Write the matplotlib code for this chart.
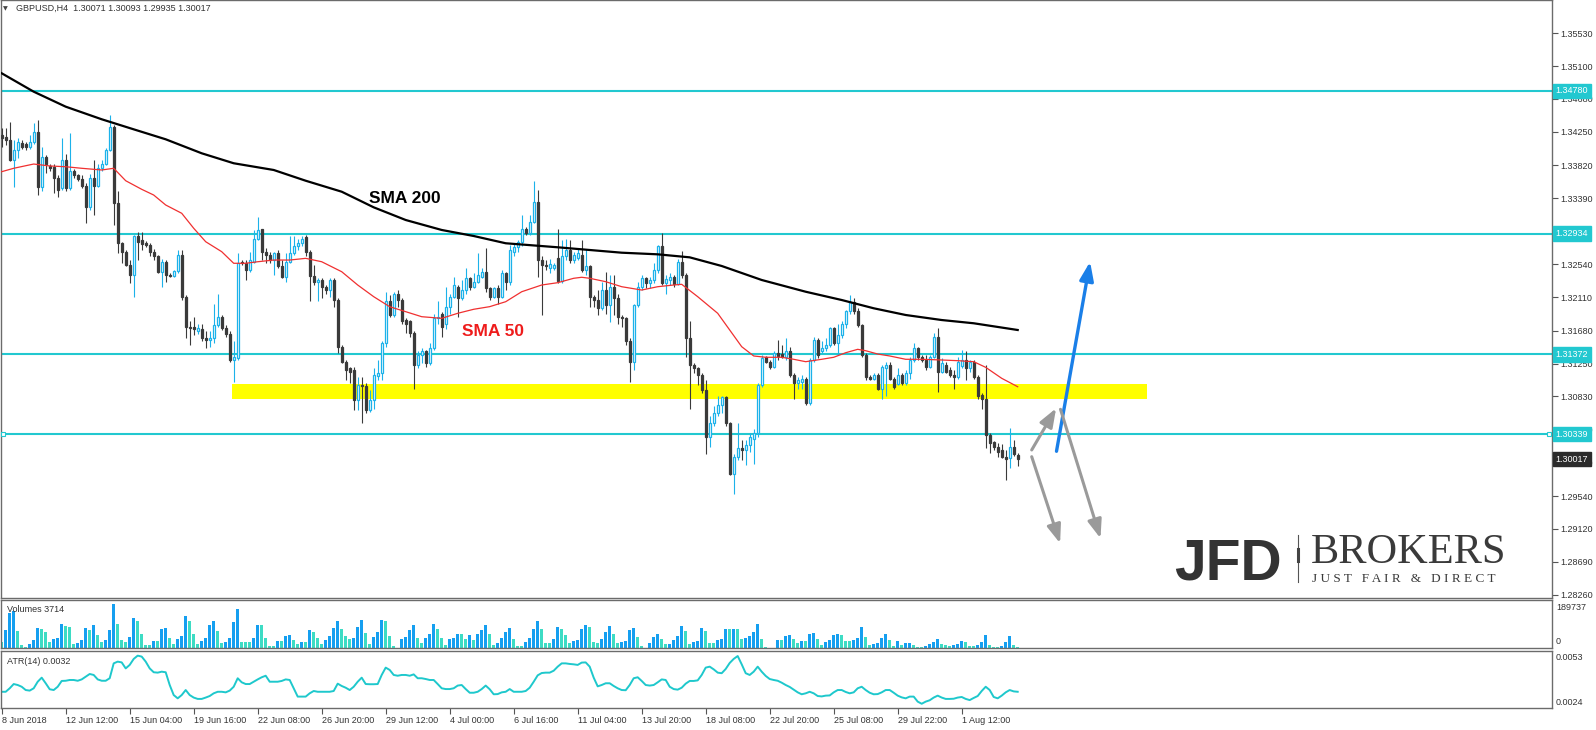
import matplotlib
matplotlib.use('Agg')
import matplotlib.pyplot as plt
import numpy as np
from matplotlib.lines import Line2D

plt.rcParams['font.family'] = ['Liberation Sans', 'DejaVu Sans']

W, H = 1596, 730

# GBPUSD H4 candles (bar 0 = 8 Jun 2018)
opens = [
    1.3421, 1.3419, 1.3415, 1.3389, 1.3402, 1.3411, 1.3410, 1.3405, 1.3412, 1.3425,
    1.3354, 1.3393, 1.3381, 1.3380, 1.3365, 1.3352, 1.3389, 1.3352, 1.3374, 1.3369,
    1.3364, 1.3355, 1.3328, 1.3366, 1.3355, 1.3379, 1.3384, 1.3402, 1.3432, 1.3333,
    1.3281, 1.3270, 1.3253, 1.3240, 1.3290, 1.3285, 1.3281, 1.3279, 1.3270, 1.3264,
    1.3244, 1.3257, 1.3240, 1.3239, 1.3245, 1.3266, 1.3212, 1.3173, 1.3173, 1.3167,
    1.3170, 1.3158, 1.3156, 1.3158, 1.3175, 1.3186, 1.3171, 1.3164, 1.3130, 1.3132,
    1.3257, 1.3255, 1.3246, 1.3257, 1.3287, 1.3299, 1.3270, 1.3266, 1.3259, 1.3268,
    1.3251, 1.3238, 1.3257, 1.3268, 1.3277, 1.3281, 1.3289, 1.3270, 1.3239, 1.3231,
    1.3234, 1.3224, 1.3221, 1.3233, 1.3208, 1.3147, 1.3128, 1.3119, 1.3117, 1.3078,
    1.3098, 1.3096, 1.3065, 1.3078, 1.3109, 1.3113, 1.3152, 1.3206, 1.3188, 1.3216,
    1.3208, 1.3182, 1.3180, 1.3165, 1.3124, 1.3137, 1.3141, 1.3126, 1.3145, 1.3184,
    1.3190, 1.3176, 1.3199, 1.3212, 1.3225, 1.3210, 1.3221, 1.3236, 1.3225, 1.3231,
    1.3238, 1.3244, 1.3223, 1.3212, 1.3223, 1.3212, 1.3242, 1.3231, 1.3270, 1.3276,
    1.3283, 1.3300, 1.3294, 1.3309, 1.3334, 1.3259, 1.3253, 1.3249, 1.3249, 1.3262,
    1.3232, 1.3264, 1.3272, 1.3259, 1.3262, 1.3266, 1.3246, 1.3252, 1.3211, 1.3208,
    1.3197, 1.3221, 1.3201, 1.3224, 1.3210, 1.3186, 1.3184, 1.3154, 1.3128, 1.3201,
    1.3225, 1.3236, 1.3229, 1.3233, 1.3246, 1.3277, 1.3229, 1.3233, 1.3237, 1.3228,
    1.3257, 1.3240, 1.3158, 1.3124, 1.3119, 1.3111, 1.3091, 1.3031, 1.3048, 1.3061,
    1.3072, 1.3082, 1.3048, 1.2983, 1.3005, 1.3016, 1.3014, 1.3020, 1.3028, 1.3035,
    1.3098, 1.3134, 1.3128, 1.3121, 1.3139, 1.3138, 1.3134, 1.3141, 1.3111, 1.3100,
    1.3102, 1.3106, 1.3074, 1.3130, 1.3156, 1.3141, 1.3145, 1.3149, 1.3171, 1.3152,
    1.3162, 1.3177, 1.3193, 1.3205, 1.3193, 1.3175, 1.3137, 1.3108, 1.3106, 1.3111,
    1.3093, 1.3119, 1.3124, 1.3106, 1.3099, 1.3111, 1.3100, 1.3113, 1.3130, 1.3145,
    1.3134, 1.3130, 1.3121, 1.3134, 1.3160, 1.3115, 1.3124, 1.3117, 1.3111, 1.3108,
    1.3122, 1.3130, 1.3119, 1.3128, 1.3108, 1.3085, 1.3080, 1.3033, 1.3024, 1.3018,
    1.3013, 1.3005, 1.3003, 1.3018, 1.30071,
]
highs = [
    1.3430, 1.3430, 1.3438, 1.3415, 1.3417, 1.3414, 1.3412, 1.3421, 1.3436, 1.3441,
    1.3406, 1.3395, 1.3384, 1.3384, 1.3369, 1.3417, 1.3397, 1.3424, 1.3377, 1.3371,
    1.3369, 1.3359, 1.3371, 1.3389, 1.3384, 1.3389, 1.3404, 1.3447, 1.3434, 1.3348,
    1.3283, 1.3272, 1.3259, 1.3292, 1.3296, 1.3296, 1.3284, 1.3281, 1.3274, 1.3266,
    1.3261, 1.3259, 1.3242, 1.3247, 1.3272, 1.3272, 1.3214, 1.3180, 1.3186, 1.3177,
    1.3177, 1.3167, 1.3167, 1.3203, 1.3216, 1.3188, 1.3175, 1.3167, 1.3154, 1.3268,
    1.3259, 1.3259, 1.3270, 1.3298, 1.3315, 1.3300, 1.3275, 1.3270, 1.3270, 1.3272,
    1.3259, 1.3268, 1.3290, 1.3290, 1.3287, 1.3290, 1.3292, 1.3272, 1.3253, 1.3236,
    1.3236, 1.3227, 1.3236, 1.3236, 1.3210, 1.3149, 1.3130, 1.3121, 1.3121, 1.3108,
    1.3108, 1.3100, 1.3091, 1.3119, 1.3130, 1.3154, 1.3218, 1.3214, 1.3218, 1.3221,
    1.3210, 1.3184, 1.3182, 1.3167, 1.3141, 1.3145, 1.3143, 1.3152, 1.3190, 1.3206,
    1.3192, 1.3225, 1.3216, 1.3238, 1.3227, 1.3234, 1.3249, 1.3238, 1.3242, 1.3268,
    1.3249, 1.3275, 1.3225, 1.3225, 1.3227, 1.3246, 1.3244, 1.3279, 1.3281, 1.3285,
    1.3318, 1.3302, 1.3318, 1.3362, 1.3350, 1.3264, 1.3259, 1.3261, 1.3256, 1.3300,
    1.3285, 1.3287, 1.3285, 1.3270, 1.3274, 1.3285, 1.3274, 1.3253, 1.3214, 1.3220,
    1.3231, 1.3244, 1.3240, 1.3240, 1.3216, 1.3188, 1.3186, 1.3158, 1.3203, 1.3231,
    1.3240, 1.3238, 1.3238, 1.3255, 1.3279, 1.3294, 1.3240, 1.3242, 1.3240, 1.3260,
    1.3271, 1.3242, 1.3180, 1.3126, 1.3121, 1.3113, 1.3104, 1.3057, 1.3070, 1.3083,
    1.3083, 1.3083, 1.3050, 1.3009, 1.3048, 1.3027, 1.3027, 1.3035, 1.3041, 1.3100,
    1.3136, 1.3135, 1.3130, 1.3141, 1.3156, 1.3149, 1.3158, 1.3147, 1.3113, 1.3108,
    1.3111, 1.3108, 1.3132, 1.3160, 1.3158, 1.3154, 1.3158, 1.3173, 1.3173, 1.3177,
    1.3180, 1.3195, 1.3214, 1.3210, 1.3197, 1.3177, 1.3139, 1.3111, 1.3113, 1.3113,
    1.3124, 1.3128, 1.3128, 1.3108, 1.3119, 1.3113, 1.3117, 1.3134, 1.3152, 1.3147,
    1.3136, 1.3136, 1.3136, 1.3165, 1.3171, 1.3132, 1.3128, 1.3121, 1.3117, 1.3134,
    1.3143, 1.3141, 1.3130, 1.3130, 1.3111, 1.3087, 1.3124, 1.3035, 1.3025, 1.3022,
    1.3021, 1.3013, 1.3042, 1.3027, 1.30093,
]
lows = [
    1.3406, 1.3408, 1.3387, 1.3354, 1.3391, 1.3403, 1.3402, 1.3403, 1.3410, 1.3343,
    1.3348, 1.3372, 1.3374, 1.3346, 1.3341, 1.3350, 1.3348, 1.3350, 1.3366, 1.3361,
    1.3352, 1.3307, 1.3324, 1.3318, 1.3354, 1.3374, 1.3382, 1.3400, 1.3305, 1.3268,
    1.3255, 1.3251, 1.3229, 1.3211, 1.3259, 1.3272, 1.3276, 1.3264, 1.3259, 1.3242,
    1.3225, 1.3231, 1.3237, 1.3237, 1.3242, 1.3208, 1.3158, 1.3149, 1.3162, 1.3164,
    1.3154, 1.3145, 1.3147, 1.3152, 1.3173, 1.3169, 1.3160, 1.3128, 1.3102, 1.3130,
    1.3253, 1.3233, 1.3244, 1.3255, 1.3285, 1.3259, 1.3255, 1.3255, 1.3240, 1.3249,
    1.3236, 1.3231, 1.3255, 1.3266, 1.3272, 1.3277, 1.3264, 1.3206, 1.3227, 1.3206,
    1.3210, 1.3216, 1.3212, 1.3199, 1.3139, 1.3126, 1.3104, 1.3100, 1.3065, 1.3065,
    1.3048, 1.3061, 1.3063, 1.3067, 1.3104, 1.3104, 1.3147, 1.3186, 1.3186, 1.3199,
    1.3177, 1.3165, 1.3160, 1.3093, 1.3119, 1.3126, 1.3121, 1.3124, 1.3143, 1.3177,
    1.3160, 1.3170, 1.3190, 1.3210, 1.3186, 1.3208, 1.3216, 1.3221, 1.3223, 1.3229,
    1.3236, 1.3218, 1.3208, 1.3210, 1.3203, 1.3210, 1.3221, 1.3227, 1.3264, 1.3270,
    1.3277, 1.3292, 1.3292, 1.3307, 1.3238, 1.3188, 1.3246, 1.3242, 1.3246, 1.3229,
    1.3229, 1.3259, 1.3255, 1.3255, 1.3259, 1.3244, 1.3240, 1.3199, 1.3199, 1.3188,
    1.3195, 1.3190, 1.3179, 1.3188, 1.3177, 1.3173, 1.3149, 1.3102, 1.3117, 1.3199,
    1.3220, 1.3223, 1.3223, 1.3229, 1.3242, 1.3227, 1.3216, 1.3227, 1.3225, 1.3227,
    1.3236, 1.3134, 1.3067, 1.3113, 1.3098, 1.3087, 1.3009, 1.3018, 1.3044, 1.3057,
    1.3061, 1.3044, 1.2981, 1.2957, 1.3000, 1.3001, 1.2994, 1.3011, 1.2996, 1.3031,
    1.3095, 1.3126, 1.3118, 1.3119, 1.3130, 1.3132, 1.3130, 1.3108, 1.3080, 1.3093,
    1.3093, 1.3072, 1.3072, 1.3128, 1.3132, 1.3139, 1.3141, 1.3147, 1.3149, 1.3137,
    1.3158, 1.3171, 1.3190, 1.3190, 1.3173, 1.3134, 1.3104, 1.3104, 1.3104, 1.3091,
    1.3080, 1.3083, 1.3104, 1.3093, 1.3097, 1.3098, 1.3098, 1.3106, 1.3128, 1.3130,
    1.3128, 1.3117, 1.3119, 1.3132, 1.3089, 1.3113, 1.3113, 1.3108, 1.3093, 1.3106,
    1.3119, 1.3104, 1.3115, 1.3106, 1.3080, 1.3067, 1.3016, 1.3010, 1.3014, 1.3005,
    1.3003, 1.2975, 1.2990, 1.3006, 1.29935,
]
closes = [
    1.3417, 1.3415, 1.3389, 1.3402, 1.3412, 1.3405, 1.3405, 1.3412, 1.3425, 1.3354,
    1.3393, 1.3384, 1.3378, 1.3365, 1.3350, 1.3389, 1.3352, 1.3374, 1.3369, 1.3364,
    1.3355, 1.3328, 1.3366, 1.3355, 1.3379, 1.3384, 1.3402, 1.3432, 1.3333, 1.3281,
    1.3270, 1.3253, 1.3240, 1.3290, 1.3283, 1.3280, 1.3279, 1.3270, 1.3264, 1.3244,
    1.3257, 1.3240, 1.3239, 1.3245, 1.3266, 1.3212, 1.3173, 1.3171, 1.3170, 1.3171,
    1.3158, 1.3156, 1.3158, 1.3175, 1.3186, 1.3171, 1.3164, 1.3130, 1.3134, 1.3255,
    1.3255, 1.3246, 1.3259, 1.3287, 1.3298, 1.3270, 1.3266, 1.3259, 1.3268, 1.3251,
    1.3238, 1.3257, 1.3268, 1.3277, 1.3281, 1.3287, 1.3270, 1.3239, 1.3231, 1.3234,
    1.3224, 1.3221, 1.3233, 1.3208, 1.3147, 1.3128, 1.3117, 1.3115, 1.3078, 1.3098,
    1.3096, 1.3065, 1.3078, 1.3111, 1.3113, 1.3152, 1.3206, 1.3188, 1.3216, 1.3208,
    1.3180, 1.3177, 1.3165, 1.3124, 1.3137, 1.3141, 1.3126, 1.3145, 1.3184, 1.3186,
    1.3173, 1.3199, 1.3212, 1.3227, 1.3210, 1.3221, 1.3236, 1.3225, 1.3231, 1.3240,
    1.3244, 1.3223, 1.3212, 1.3223, 1.3212, 1.3242, 1.3231, 1.3272, 1.3276, 1.3283,
    1.3300, 1.3294, 1.3309, 1.3334, 1.3259, 1.3253, 1.3251, 1.3254, 1.3253, 1.3232,
    1.3264, 1.3272, 1.3259, 1.3266, 1.3268, 1.3246, 1.3252, 1.3211, 1.3208, 1.3197,
    1.3221, 1.3201, 1.3224, 1.3210, 1.3186, 1.3184, 1.3154, 1.3128, 1.3201, 1.3225,
    1.3236, 1.3229, 1.3233, 1.3246, 1.3277, 1.3229, 1.3235, 1.3237, 1.3228, 1.3257,
    1.3240, 1.3158, 1.3124, 1.3119, 1.3111, 1.3091, 1.3031, 1.3048, 1.3061, 1.3072,
    1.3082, 1.3048, 1.2983, 1.3005, 1.3016, 1.3014, 1.3020, 1.3031, 1.3035, 1.3098,
    1.3132, 1.3128, 1.3121, 1.3139, 1.3135, 1.3134, 1.3141, 1.3111, 1.3100, 1.3104,
    1.3106, 1.3074, 1.3130, 1.3156, 1.3137, 1.3145, 1.3149, 1.3171, 1.3152, 1.3162,
    1.3177, 1.3193, 1.3205, 1.3193, 1.3175, 1.3137, 1.3108, 1.3106, 1.3111, 1.3093,
    1.3121, 1.3124, 1.3106, 1.3095, 1.3111, 1.3100, 1.3113, 1.3130, 1.3145, 1.3134,
    1.3130, 1.3121, 1.3134, 1.3160, 1.3115, 1.3126, 1.3115, 1.3111, 1.3108, 1.3128,
    1.3130, 1.3119, 1.3128, 1.3108, 1.3083, 1.3080, 1.3033, 1.3023, 1.3018, 1.3011,
    1.3005, 1.3002, 1.3018, 1.3009, 1.30017,
]

volumes = [
    23900, 70300, 136700, 146000, 66400, 13300, 2700, 17300, 30500, 79600,
    74300, 63700, 23900, 34500, 39800, 94200, 88900, 84900, 14600, 18600,
    30500, 79600, 71700, 90200, 50400, 23900, 33200, 71700, 173800, 95500,
    30500, 23900, 43800, 119400, 106200, 55700, 10600, 10600, 27900, 27900,
    75600, 79600, 39800, 15900, 35800, 46400, 126100, 107500, 55700, 14600,
    29200, 41100, 90200, 106200, 66400, 19900, 22600, 39800, 103500, 153900,
    22600, 22600, 22600, 41100, 90200, 90200, 39800, 6600, 6600, 27900,
    27900, 46400, 53100, 30500, 15900, 22600, 22600, 71700, 63700, 41100,
    14600, 33200, 47800, 79600, 107500, 74300, 46400, 37200, 41100, 83600,
    111500, 59700, 14600, 43800, 63700, 111500, 107500, 47800, 9300, 1300,
    35800, 43800, 70300, 90200, 39800, 19900, 39800, 54400, 94200, 77000,
    39800, 10600, 34500, 39800, 55700, 55700, 35800, 50400, 33200, 54400,
    71700, 90200, 54400, 10600, 21200, 41100, 63700, 79600, 37200, 6600,
    6600, 23900, 41100, 77000, 106200, 74300, 18600, 18600, 34500, 82300,
    74300, 50400, 19900, 29200, 30500, 74300, 90200, 82300, 22600, 18600,
    34500, 62400, 86300, 54400, 21200, 23900, 27900, 71700, 78300, 42500,
    6600, 1200, 19900, 43800, 54400, 34500, 14600, 17300, 30500, 49100,
    86300, 66400, 15900, 23900, 26500, 80900, 66400, 21200, 21200, 33200,
    35800, 74300, 74300, 75600, 75600, 37200, 41100, 47800, 63700, 92900,
    37200, 4000, 1500, 1100, 30500, 30500, 47800, 50400, 34500, 21200,
    27900, 27900, 57100, 59700, 34500, 10600, 23900, 33200, 53100, 57100,
    50400, 26500, 26500, 33200, 39800, 82300, 42500, 10600, 17300, 21200,
    41100, 57100, 30500, 8000, 26500, 13300, 18600, 21200, 10600, 5300,
    2700, 9300, 15900, 23900, 34500, 15900, 10600, 8000, 10600, 15900,
    26500, 23900, 8000, 8000, 13300, 23900, 50400, 13300, 5300, 4000,
    8000, 23900, 46400, 13300, 3714,
]

atr = [
    0.00324, 0.00324, 0.00342, 0.00364, 0.00359, 0.00350, 0.00333, 0.00330, 0.00342, 0.00376,
    0.00397, 0.00368, 0.00337, 0.00333, 0.00350, 0.00380, 0.00381, 0.00385, 0.00385, 0.00381,
    0.00388, 0.00402, 0.00416, 0.00411, 0.00388, 0.00381, 0.00381, 0.00394, 0.00471, 0.00480,
    0.00476, 0.00445, 0.00463, 0.00494, 0.00511, 0.00506, 0.00480, 0.00445, 0.00425, 0.00423,
    0.00428, 0.00425, 0.00359, 0.00307, 0.00290, 0.00307, 0.00333, 0.00307, 0.00294, 0.00287,
    0.00287, 0.00294, 0.00302, 0.00316, 0.00324, 0.00324, 0.00321, 0.00330, 0.00350, 0.00394,
    0.00373, 0.00364, 0.00364, 0.00376, 0.00388, 0.00399, 0.00407, 0.00376, 0.00376, 0.00376,
    0.00380, 0.00388, 0.00385, 0.00342, 0.00299, 0.00299, 0.00299, 0.00316, 0.00328, 0.00324,
    0.00324, 0.00324, 0.00324, 0.00328, 0.00366, 0.00354, 0.00345, 0.00333, 0.00350, 0.00376,
    0.00397, 0.00364, 0.00363, 0.00363, 0.00364, 0.00411, 0.00449, 0.00437, 0.00411, 0.00407,
    0.00411, 0.00411, 0.00407, 0.00414, 0.00394, 0.00394, 0.00390, 0.00385, 0.00385, 0.00364,
    0.00342, 0.00338, 0.00338, 0.00342, 0.00356, 0.00359, 0.00338, 0.00319, 0.00319, 0.00324,
    0.00338, 0.00356, 0.00337, 0.00311, 0.00312, 0.00321, 0.00324, 0.00338, 0.00324, 0.00324,
    0.00324, 0.00328, 0.00345, 0.00376, 0.00409, 0.00421, 0.00423, 0.00423, 0.00433, 0.00454,
    0.00471, 0.00471, 0.00468, 0.00466, 0.00463, 0.00475, 0.00476, 0.00454, 0.00397, 0.00352,
    0.00359, 0.00368, 0.00368, 0.00354, 0.00342, 0.00333, 0.00332, 0.00359, 0.00394, 0.00399,
    0.00380, 0.00359, 0.00356, 0.00359, 0.00373, 0.00388, 0.00385, 0.00350, 0.00338, 0.00335,
    0.00345, 0.00366, 0.00380, 0.00380, 0.00383, 0.00411, 0.00449, 0.00454, 0.00440, 0.00423,
    0.00420, 0.00442, 0.00473, 0.00494, 0.00509, 0.00466, 0.00420, 0.00411, 0.00428, 0.00454,
    0.00428, 0.00406, 0.00390, 0.00385, 0.00381, 0.00371, 0.00359, 0.00349, 0.00335, 0.00321,
    0.00311, 0.00316, 0.00324, 0.00316, 0.00302, 0.00300, 0.00304, 0.00305, 0.00321, 0.00333,
    0.00333, 0.00323, 0.00316, 0.00321, 0.00342, 0.00350, 0.00333, 0.00319, 0.00311, 0.00312,
    0.00321, 0.00333, 0.00333, 0.00319, 0.00304, 0.00295, 0.00290, 0.00299, 0.00299, 0.00273,
    0.00262, 0.00273, 0.00280, 0.00294, 0.00304, 0.00294, 0.00287, 0.00287, 0.00288, 0.00294,
    0.00297, 0.00287, 0.00281, 0.00292, 0.00302, 0.00328, 0.00350, 0.00333, 0.00297, 0.00290,
    0.00304, 0.00321, 0.00333, 0.00326, 0.00324,
]

# moving averages as drawn on the chart (bar index, price)
sma200_bars = [0, 8, 16, 25, 33, 41, 50, 58, 68, 76, 85, 93, 101, 110, 118, 126, 139,
               147, 155, 164, 172, 180, 190, 201, 210, 218, 226, 235, 243, 254]
sma200 = [1.35009, 1.34771, 1.34577, 1.34414, 1.34284, 1.34155, 1.33974, 1.33845,
          1.33758, 1.33619, 1.33477, 1.33275, 1.33111, 1.32982, 1.32904, 1.32810,
          1.32758, 1.32723, 1.32688, 1.32667, 1.32628, 1.32516, 1.32335, 1.32183,
          1.32076, 1.31969, 1.31882, 1.31817, 1.31775, 1.31688]
sma50_bars = [0, 3, 8, 12, 16, 20, 25, 28, 31, 35, 38, 41, 45, 48, 51, 55, 58, 61, 64,
              68, 72, 76, 80, 85, 89, 93, 97, 101, 105, 110, 114, 118, 122, 126, 130,
              135, 139, 143, 145, 147, 151, 155, 160, 164, 168, 170, 174, 179, 182, 185,
              188, 191, 195, 198, 201, 205, 208, 211, 214, 216, 219, 222, 226, 230, 235,
              239, 243, 246, 250, 254]
sma50 = [1.33736, 1.33780, 1.33835, 1.33810, 1.33800, 1.33780, 1.33758, 1.33780,
         1.33619, 1.33508, 1.33434, 1.33305, 1.33198, 1.33004, 1.32830, 1.32701,
         1.32551, 1.32551, 1.32571, 1.32593, 1.32593, 1.32615, 1.32571, 1.32442,
         1.32270, 1.32119, 1.31989, 1.31925, 1.31860, 1.31839, 1.31904, 1.31956,
         1.31990, 1.32054, 1.32183, 1.32270, 1.32300, 1.32357, 1.32370, 1.32357,
         1.32313, 1.32248, 1.32205, 1.32248, 1.32270, 1.32279, 1.32119, 1.31904,
         1.31688, 1.31472, 1.31352, 1.31335, 1.31335, 1.31309, 1.31278, 1.31309,
         1.31335, 1.31394, 1.31438, 1.31420, 1.31377, 1.31352, 1.31309, 1.31309,
         1.31300, 1.31291, 1.31278, 1.31205, 1.31063, 1.30954]

levels = [1.34780, 1.32934, 1.31372, 1.30339]
zone_low, zone_high = 1.30795, 1.30989
zone_start, zone_end = 57.6, 286.3

price_ticks = [1.35530, 1.35100, 1.34680, 1.34250, 1.33820, 1.33390, 1.32960, 1.32540,
               1.32110, 1.31680, 1.31250, 1.30830, 1.30400, 1.29970, 1.29540, 1.29120,
               1.28690, 1.28260]
hidden_ticks = [1.32960]   # fully covered by the 1.32934 price tag
date_labels = ['8 Jun 2018', '12 Jun 12:00', '15 Jun 04:00', '19 Jun 16:00',
               '22 Jun 08:00', '26 Jun 20:00', '29 Jun 12:00', '4 Jul 00:00',
               '6 Jul 16:00', '11 Jul 04:00', '13 Jul 20:00', '18 Jul 08:00',
               '22 Jul 20:00', '25 Jul 08:00', '29 Jul 22:00', '1 Aug 12:00']
bars_per_label = 16

# arrows (bar, price): tail -> tip
blue_arrow = ((263.7, 1.30119), (272.1, 1.32571))
gray_arrows = [((257.5, 1.30136), (263.6, 1.30675)),
               ((257.5, 1.30049), (264.6, 1.28929)),
               ((264.7, 1.30662), (274.7, 1.28993))]

UP = '#1cb2ea'
DOWN = '#3a3a3a'
LEVEL = '#22c8d0'
FRAME = '#6b6b6b'
TXT = '#333333'


def box(x0, y0, x1, y1):
    return [x0 / W, 1 - y1 / H, (x1 - x0) / W, (y1 - y0) / H]


fig = plt.figure(figsize=(W / 100, H / 100), dpi=100)
ax = fig.add_axes(box(1, 0, 1552, 598))
axv = fig.add_axes(box(1, 600, 1552, 648))
axa = fig.add_axes(box(1, 651, 1552, 708))

xlim = (-0.175, -0.175 + 1551 / 4)
for a in (ax, axv, axa):
    a.set_xlim(*xlim)
    for s in a.spines.values():
        s.set_color(FRAME)
        s.set_linewidth(1.0)

o, hi, lo, c = map(np.array, (opens, highs, lows, closes))
x = np.arange(len(c))
up = c >= o

# main chart
ax.set_ylim(1.28221, 1.35957)
ax.fill_between([zone_start, zone_end], zone_low, zone_high, color='#ffff00', lw=0, zorder=1)
for lv in levels:
    ax.axhline(lv, color=LEVEL, lw=1.5, zorder=2)
ax.plot([0.3, 386.8], [levels[3]] * 2, ls='none', marker='s', ms=3.5, mfc='white',
        mec=LEVEL, mew=0.8, zorder=6, clip_on=False)

ax.vlines(x[up], lo[up], hi[up], color=UP, lw=0.8, zorder=3)
ax.vlines(x[~up], lo[~up], hi[~up], color=DOWN, lw=0.8, zorder=3)
ax.bar(x[up], c[up] - o[up], bottom=o[up], width=0.5, facecolor='white',
       edgecolor=UP, linewidth=0.9, zorder=4)
ax.bar(x[~up], o[~up] - c[~up], bottom=c[~up], width=0.5, facecolor=DOWN,
       edgecolor=DOWN, linewidth=0.9, zorder=4)

ax.plot(sma200_bars, sma200, color='black', lw=1.6, zorder=5)
ax.plot(sma50_bars, sma50, color='#f03030', lw=0.9, zorder=5)
ax.text(100.8, 1.33383, 'SMA 200', ha='center', va='center', fontsize=12.5,
        fontweight='bold', color='black', zorder=7)
ax.text(122.8, 1.31675, 'SMA 50', ha='center', va='center', fontsize=12.5,
        fontweight='bold', color='#ee1c1c', zorder=7)

ax.annotate('', xy=blue_arrow[1], xytext=blue_arrow[0],
            arrowprops=dict(arrowstyle='-|>,head_length=0.8,head_width=0.3', color='#1a7fe8',
                            lw=2.4, mutation_scale=14, shrinkA=0, shrinkB=0), zorder=7)
for tail, tip in gray_arrows:
    ax.annotate('', xy=tip, xytext=tail,
                arrowprops=dict(arrowstyle='-|>,head_length=0.8,head_width=0.3', color='#9a9a9a',
                                lw=2.2, mutation_scale=14, shrinkA=0, shrinkB=0), zorder=7)

ax.set_xticks([])
ax.yaxis.tick_right()
ax.set_yticks(price_ticks)
ax.set_yticklabels(['' if v in hidden_ticks else f'{v:.5f}' for v in price_ticks])
ax.tick_params(axis='y', length=4, width=0.8, pad=2, labelsize=6.5,
               labelcolor=TXT, color='#555555')

xl = 1 + 3.5 / 1551
for lv in levels:
    ax.text(xl, lv, f'{lv:.5f}', transform=ax.get_yaxis_transform(), ha='left', va='center',
            fontsize=6.5, color='white', clip_on=False, zorder=8,
            bbox=dict(boxstyle='square,pad=0.3', fc=LEVEL, ec=LEVEL))
ax.text(xl, c[-1], f'{c[-1]:.5f}', transform=ax.get_yaxis_transform(), ha='left',
        va='center', fontsize=6.5, color='white', clip_on=False, zorder=8,
        bbox=dict(boxstyle='square,pad=0.3', fc='#2b2b2b', ec='#2b2b2b'))

# volumes
v = np.array(volumes)
vcol = ['#3ddcc4'] + ['#159ff0' if v[i] > v[i - 1] else '#3ddcc4' for i in range(1, len(v))]
axv.bar(x, v, width=0.7, color=vcol, linewidth=0)
axv.set_ylim(0, 189737)
axv.set_xticks([])
axv.set_yticks([])
axv.text(6 / 1551, 1 - 9 / 48, f'Volumes {volumes[-1]}', transform=axv.transAxes,
         fontsize=6.5, color=TXT, va='center', ha='left')
axv.text(1 + 4 / 1551, 1 - 2.5 / 48, '189737', transform=axv.transAxes, fontsize=6.5,
         color=TXT, va='top', ha='left', clip_on=False)
axv.text(1 + 4 / 1551, 1.5 / 48, '0', transform=axv.transAxes, fontsize=6.5,
         color=TXT, va='bottom', ha='left', clip_on=False)

# ATR
axa.plot(x, atr, color='#1ec8cc', lw=1.4)
axa.set_ylim(0.0024, 0.00535)
axa.set_yticks([])
axa.text(6 / 1551, 1 - 10 / 57, f'ATR(14) {atr[-1]:.4f}', transform=axa.transAxes,
         fontsize=6.5, color=TXT, va='center', ha='left')
axa.text(1 + 4 / 1551, 1 - 1.5 / 57, '0.0053', transform=axa.transAxes, fontsize=6.5,
         color=TXT, va='top', ha='left', clip_on=False)
axa.text(1 + 4 / 1551, 1.2 / 57, '0.0024', transform=axa.transAxes, fontsize=6.5,
         color=TXT, va='bottom', ha='left', clip_on=False)
axa.set_xticks(np.arange(len(date_labels)) * bars_per_label)
axa.set_xticklabels(date_labels, ha='left')
axa.tick_params(axis='x', length=4, width=0.8, pad=2, labelsize=6.5,
                labelcolor=TXT, color='#555555')

# header
fig.text(3 / W, 1 - 8.5 / H, '\u25bc', fontsize=4.5, color='#444444', va='center',
         family=['DejaVu Sans'])
fig.text(15.5 / W, 1 - 8.5 / H, 'GBPUSD,H4  1.30071 1.30093 1.29935 1.30017',
         fontsize=6.5, color=TXT, va='center')

# logo
fig.text(1174 / W, 1 - 580 / H, 'JFD', fontsize=41, fontweight='bold', color='#333333',
         va='baseline', ha='left')
fig.add_artist(Line2D([1298 / W] * 2, [1 - 535 / H, 1 - 582 / H], color='#555555', lw=0.8))
fig.add_artist(Line2D([1298 / W] * 2, [1 - 549 / H, 1 - 561 / H], color='#444444', lw=2.2))
fig.text(1311 / W, 1 - 563 / H, 'BROKERS', fontsize=30.5, color='#3a3a3a',
         va='baseline', ha='left', family=['Liberation Serif'])
fig.text(1312 / W, 1 - 582 / H, 'J U S T   F A I R   &   D I R E C T', fontsize=9.5,
         color='#3a3a3a', va='baseline', ha='left', family=['Liberation Serif'])

fig.savefig('out.png', dpi=100)
